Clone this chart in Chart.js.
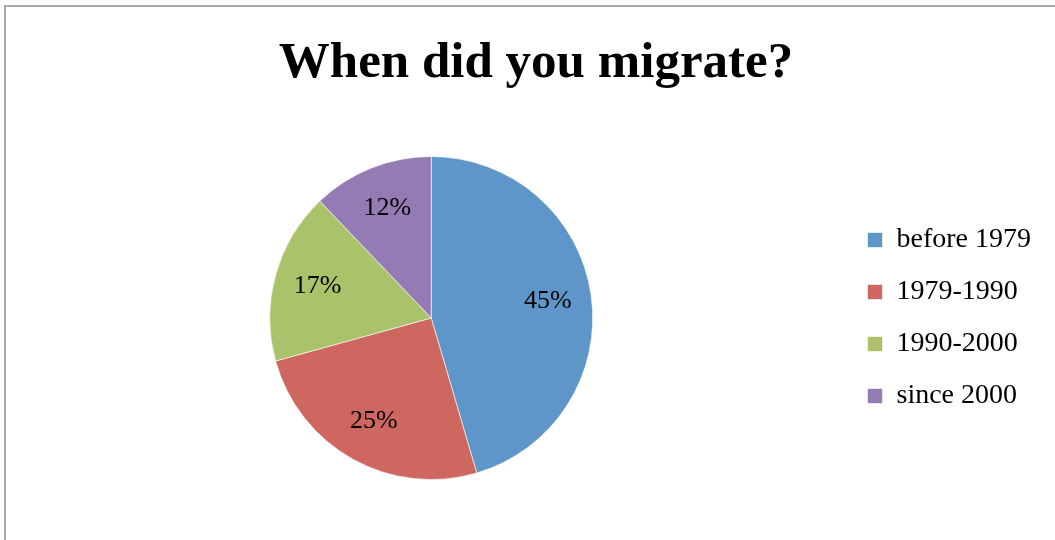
<!DOCTYPE html>
<html>
<head>
<meta charset="utf-8">
<script src="https://cdn.jsdelivr.net/npm/chart.js@4.4.1/dist/chart.umd.min.js"></script>
<style>
  html, body { margin: 0; padding: 0; background: #ffffff; overflow: hidden; width: 1055px; height: 540px; }
  #frame { position: absolute; left: 4px; top: 5px; width: 1100px; height: 600px; border: 2px solid #A8A8A8; box-sizing: border-box; }
  #c { position: absolute; left: 6px; top: 7px; }
</style>
</head>
<body>
<div id="frame"></div>
<canvas id="c" width="1049" height="533"></canvas>
<script>
const titleText = "When did you migrate?";
const categories = ["before 1979", "1979-1990", "1990-2000", "since 2000"];
const percentValues = [45, 25, 17, 12];
const sliceColors = ["#5F96CA", "#CE6760", "#AAC36A", "#947BB3"];

const sliceLabelPlugin = {
  id: 'sliceLabels',
  afterDatasetsDraw(chart) {
    const ctx = chart.ctx;
    const meta = chart.getDatasetMeta(0);
    const data = chart.data.datasets[0].data;
    ctx.save();
    ctx.font = '26px "Liberation Serif", "Times New Roman", serif';
    ctx.fillStyle = '#000000';
    ctx.textAlign = 'center';
    ctx.textBaseline = 'middle';
    meta.data.forEach((arc, i) => {
      const p = arc.getProps(['x', 'y', 'startAngle', 'endAngle', 'outerRadius'], true);
      const mid = (p.startAngle + p.endAngle) / 2;
      const r = p.outerRadius * 0.73;
      ctx.fillText(data[i] + '%', p.x + Math.cos(mid) * r, p.y + Math.sin(mid) * r);
    });
    ctx.restore();
  }
};

const titleShiftPlugin = {
  id: 'titleShift',
  afterLayout(chart) {
    const t = chart.titleBlock;
    if (t) { t.left += 6; t.right += 6; }
  }
};

new Chart(document.getElementById('c'), {
  type: 'pie',
  data: {
    labels: categories,
    datasets: [{
      data: percentValues,
      backgroundColor: sliceColors,
      borderColor: 'rgba(255,255,255,0.6)',
      borderWidth: 1
    }]
  },
  options: {
    responsive: false,
    animation: false,
    devicePixelRatio: 1,
    layout: { padding: { left: 13, right: 14, top: 0, bottom: 60 } },
    plugins: {
      title: {
        display: true,
        text: titleText,
        color: '#000000',
        font: { family: '"Liberation Serif", "Times New Roman", serif', size: 51, weight: 'bold', lineHeight: 1.2 },
        padding: { top: 26, bottom: 61.8 }
      },
      legend: {
        display: true,
        position: 'right',
        align: 'center',
        fullSize: false,
        labels: {
          color: '#000000',
          font: { family: '"Liberation Serif", "Times New Roman", serif', size: 28 },
          boxWidth: 15,
          boxHeight: 15,
          padding: 24
        }
      },
      tooltip: { enabled: false }
    }
  },
  plugins: [sliceLabelPlugin, titleShiftPlugin]
});
</script>
</body>
</html>
